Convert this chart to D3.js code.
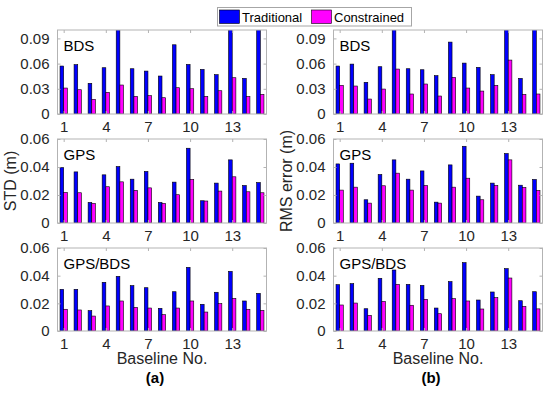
<!DOCTYPE html>
<meta charset="utf-8">
<title>STD and RMS error per baseline</title>
<script src="https://cdn.jsdelivr.net/npm/d3@7/dist/d3.min.js"></script>
<style>
html, body {
    margin: 0;
    background: #fff;
}
svg {
    display: block;
    font-family: "Liberation Sans", Arial, sans-serif;
}
.tick text {
    fill: #262626;
    font-size: 15px;
}
.tick line {
    stroke: #b3b3b3;
}
</style>
<body>
<script>
var width = 550,
    height = 393;

var baselines = [1, 2, 3, 4, 5, 6, 7, 8, 9, 10, 11, 12, 13, 14, 15];
var xTicks = [1, 4, 7, 10, 13];

// (a) STD
var stdBdsTrad = [0.0571, 0.0587, 0.0365, 0.0551, 0.12, 0.0539, 0.0511, 0.0452, 0.0824, 0.0590, 0.0531, 0.0468, 0.12, 0.0424, 0.12];
var stdBdsCons = [0.0309, 0.0289, 0.0174, 0.0258, 0.0345, 0.0210, 0.0218, 0.0194, 0.0313, 0.0301, 0.0210, 0.0277, 0.0432, 0.0210, 0.0234];
var stdGpsTrad = [0.0396, 0.0365, 0.0147, 0.0344, 0.0403, 0.0313, 0.0368, 0.0147, 0.0292, 0.0534, 0.0159, 0.0285, 0.0451, 0.0268, 0.0289];
var stdGpsCons = [0.0218, 0.0216, 0.0140, 0.0259, 0.0294, 0.0233, 0.0251, 0.0140, 0.0202, 0.0311, 0.0157, 0.0228, 0.0330, 0.0223, 0.0216];
var stdMixTrad = [0.0301, 0.0301, 0.0147, 0.0352, 0.0395, 0.0328, 0.0313, 0.0164, 0.0284, 0.0460, 0.0193, 0.0280, 0.0431, 0.0217, 0.0272];
var stdMixCons = [0.0157, 0.0152, 0.0108, 0.0181, 0.0217, 0.0171, 0.0166, 0.0118, 0.0166, 0.0217, 0.0137, 0.0198, 0.0236, 0.0157, 0.0149];

// (b) RMS error
var rmsBdsTrad = [0.0571, 0.0594, 0.0377, 0.0563, 0.12, 0.0539, 0.0527, 0.0456, 0.0856, 0.0606, 0.0555, 0.0468, 0.12, 0.0424, 0.12];
var rmsBdsCons = [0.0341, 0.0333, 0.0178, 0.0297, 0.0535, 0.0238, 0.0357, 0.0214, 0.0436, 0.0309, 0.0273, 0.0341, 0.0642, 0.0234, 0.0238];
var rmsGpsTrad = [0.0422, 0.0427, 0.0166, 0.0346, 0.0451, 0.0313, 0.0372, 0.0149, 0.0415, 0.0548, 0.0192, 0.0285, 0.0496, 0.0270, 0.0311];
var rmsGpsCons = [0.0235, 0.0256, 0.0142, 0.0266, 0.0356, 0.0235, 0.0268, 0.0142, 0.0256, 0.0320, 0.0166, 0.0268, 0.0451, 0.0254, 0.0233];
var rmsMixTrad = [0.0335, 0.0342, 0.0161, 0.0381, 0.0441, 0.0337, 0.0330, 0.0166, 0.0357, 0.0494, 0.0224, 0.0282, 0.0451, 0.0219, 0.0284];
var rmsMixCons = [0.0188, 0.0202, 0.0113, 0.0214, 0.0337, 0.0186, 0.0229, 0.0125, 0.0234, 0.0217, 0.0159, 0.0241, 0.0383, 0.0178, 0.0160];

var systems = ["BDS", "GPS", "GPS/BDS"];
var yMax = [0.1, 0.06, 0.06];
var yTicks = [[0, 0.03, 0.06, 0.09], [0, 0.02, 0.04, 0.06], [0, 0.02, 0.04, 0.06]];
var seriesNames = ["Traditional", "Constrained"];
var colors = ["#0000ff", "#ff00ff"];

var columns = [
    { left: 57.5, right: 266.5, label: "STD (m)", tag: "(a)",
      data: [[stdBdsTrad, stdBdsCons], [stdGpsTrad, stdGpsCons], [stdMixTrad, stdMixCons]] },
    { left: 333.5, right: 542.5, label: "RMS error (m)", tag: "(b)",
      data: [[rmsBdsTrad, rmsBdsCons], [rmsGpsTrad, rmsGpsCons], [rmsMixTrad, rmsMixCons]] }
];
var rows = [{ top: 30, bottom: 114 }, { top: 139, bottom: 223 }, { top: 248, bottom: 331 }];

var svg = d3.select("body").append("svg")
    .attr("width", width)
    .attr("height", height);

var fmt = function(d) { return d === 0 ? "0" : d.toFixed(2); };
var barW = 0.26;
var clipId = 0;

columns.forEach(function(col) {
    var x = d3.scaleLinear().domain([0.56, 15.44]).range([col.left, col.right]);

    rows.forEach(function(row, r) {
        var y = d3.scaleLinear().domain([0, yMax[r]]).range([row.bottom, row.top]);
        var g = svg.append("g");

        var id = "clip" + (clipId++);
        svg.append("clipPath").attr("id", id)
          .append("rect")
            .attr("x", col.left).attr("y", row.top)
            .attr("width", col.right - col.left).attr("height", row.bottom - row.top);

        var bars = g.append("g").attr("clip-path", "url(#" + id + ")");
        col.data[r].forEach(function(values, s) {
            bars.selectAll(null)
                .data(values)
                .enter().append("rect")
                .attr("x", function(d, i) { return x(baselines[i] + (s - 1) * barW); })
                .attr("y", function(d) { return y(d); })
                .attr("width", x(barW) - x(0))
                .attr("height", function(d) { return y(0) - y(d); })
                .attr("fill", colors[s])
                .attr("stroke", "#000")
                .attr("stroke-width", 0.6);
        });

        // box
        g.append("rect")
            .attr("x", col.left).attr("y", row.top)
            .attr("width", col.right - col.left).attr("height", row.bottom - row.top)
            .attr("fill", "none")
            .attr("stroke", "#b3b3b3")
            .attr("stroke-width", 1);

        var axes = [
            { a: d3.axisLeft(y).tickValues(yTicks[r]).tickFormat(fmt).tickSizeInner(-3).tickPadding(8), t: "translate(" + col.left + ",0)" },
            { a: d3.axisRight(y).tickValues(yTicks[r]).tickFormat("").tickSizeInner(-3), t: "translate(" + col.right + ",0)" },
            { a: d3.axisBottom(x).tickValues(xTicks).tickSizeInner(-3).tickPadding(7), t: "translate(0," + row.bottom + ")" },
            { a: d3.axisTop(x).tickValues(xTicks).tickFormat("").tickSizeInner(-3), t: "translate(0," + row.top + ")" }
        ];
        axes.forEach(function(ax) {
            var ag = g.append("g").attr("transform", ax.t).call(ax.a.tickSizeOuter(0));
            ag.select(".domain").remove();
            ag.selectAll(".tick text").attr("font-family", null).attr("font-size", null);
        });

        g.append("text")
            .attr("x", col.left + 6)
            .attr("y", row.top + 21)
            .attr("font-size", 15)
            .attr("fill", "#000")
            .text(systems[r]);
    });

    var cx = (col.left + col.right) / 2;
    svg.append("text")
        .attr("transform", "translate(" + (col.left - 42) + "," + ((rows[1].top + rows[1].bottom) / 2) + ") rotate(-90)")
        .attr("text-anchor", "middle")
        .attr("font-size", 16)
        .attr("fill", "#262626")
        .text(col.label);

    svg.append("text")
        .attr("x", cx)
        .attr("y", 364)
        .attr("text-anchor", "middle")
        .attr("font-size", 16)
        .attr("fill", "#262626")
        .text("Baseline No.");

    svg.append("text")
        .attr("x", cx - 7)
        .attr("y", 383)
        .attr("text-anchor", "middle")
        .attr("font-size", 15)
        .attr("font-weight", "bold")
        .attr("fill", "#000")
        .text(col.tag);
});

// legend
var legend = svg.append("g");
legend.append("rect")
    .attr("x", 217.5).attr("y", 7.5)
    .attr("width", 194).attr("height", 18.5)
    .attr("fill", "#fff")
    .attr("stroke", "#a6a6a6");

var legendX = [219.5, 311.5];
seriesNames.forEach(function(name, s) {
    legend.append("rect")
        .attr("x", legendX[s]).attr("y", 10)
        .attr("width", 20).attr("height", 13.5)
        .attr("fill", colors[s])
        .attr("stroke", "#000")
        .attr("stroke-width", 0.6);
    legend.append("text")
        .attr("x", legendX[s] + 22.5)
        .attr("y", 21.5)
        .attr("font-size", 13)
        .attr("fill", "#000")
        .text(name);
});
</script>
